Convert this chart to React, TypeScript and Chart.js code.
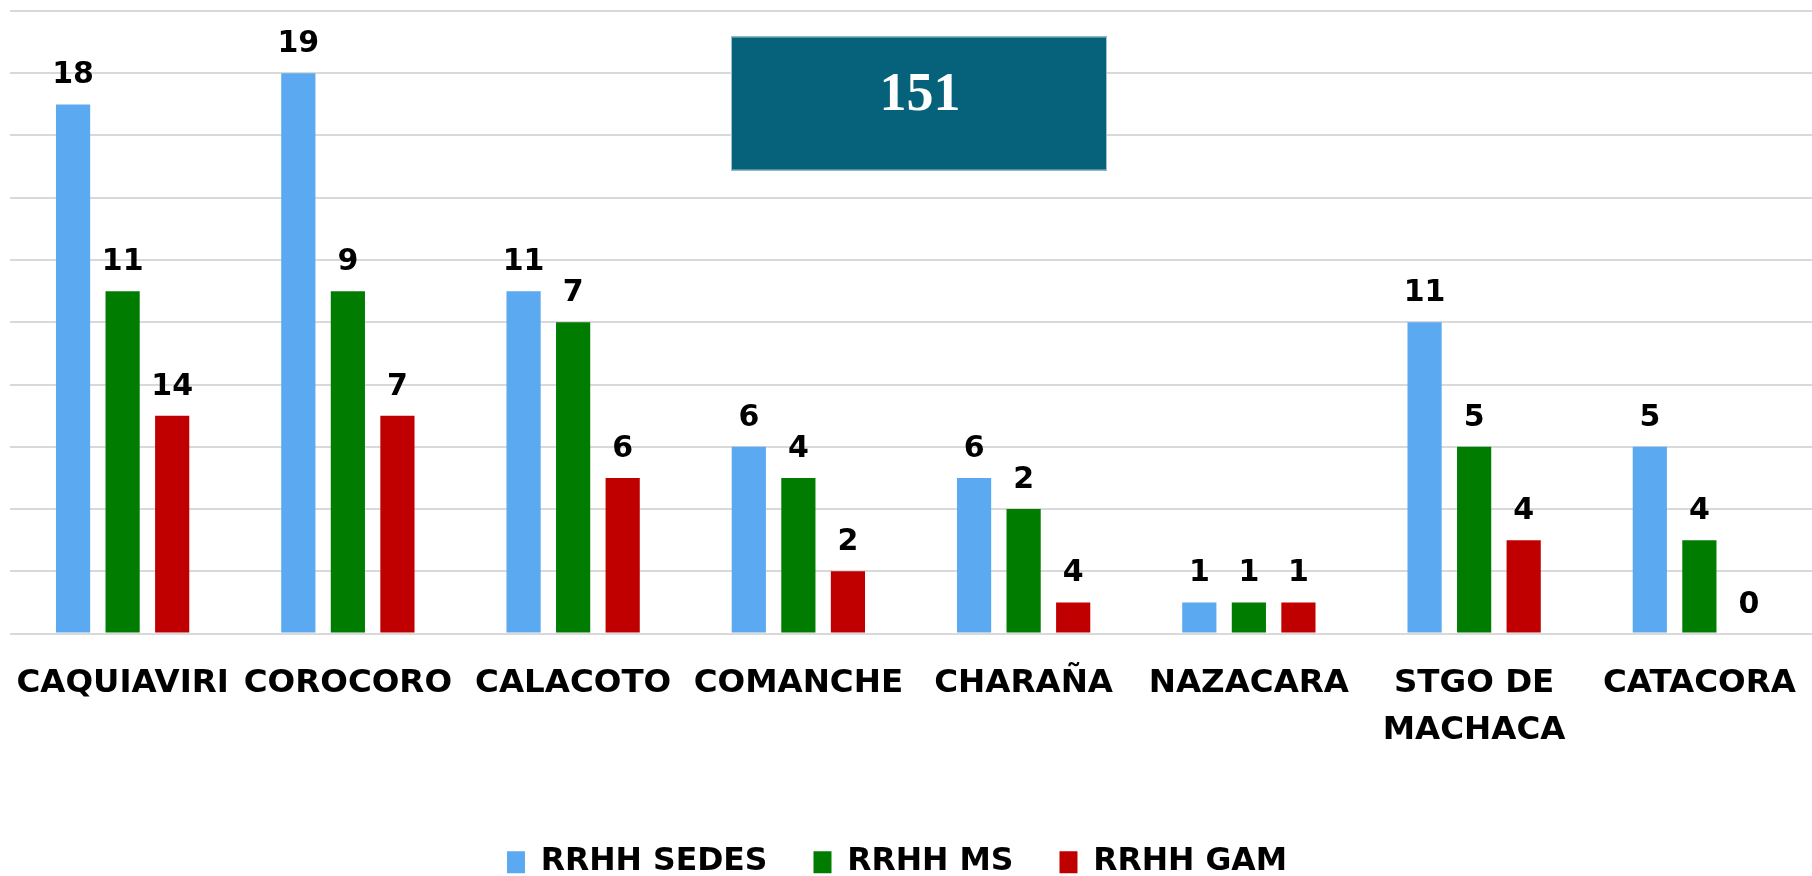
import React, { useEffect, useRef } from "react";
import { Chart, registerables } from "chart.js";

Chart.register(...registerables);

// ---- data ----
const categories: (string | string[])[] = [
  "CAQUIAVIRI",
  "COROCORO",
  "CALACOTO",
  "COMANCHE",
  "CHARAÑA",
  "NAZACARA",
  ["STGO DE", "MACHACA"],
  "CATACORA",
];
const seriesNames = ["RRHH SEDES", "RRHH MS", "RRHH GAM"];
const seriesColors = ["#5BA9F1", "#007D00", "#C00000"];

// bar heights as drawn (gridline units)
const sedesHeights = [8.5, 9, 5.5, 3, 2.5, 0.5, 5, 3];
const msHeights = [5.5, 5.5, 5, 2.5, 2, 0.5, 3, 1.5];
const gamHeights = [3.5, 3.5, 2.5, 1, 0.5, 0.5, 1.5, 0];

// value labels printed above bars
const sedesLabels = ["18", "19", "11", "6", "6", "1", "11", "5"];
const msLabels = ["11", "9", "7", "4", "2", "1", "5", "4"];
const gamLabels = ["14", "7", "6", "2", "4", "1", "4", "0"];

const totalLabel = "151";
const yMax = 10;
const yStep = 1;

const FONT = '"DejaVu Sans", sans-serif';

const valueLabelSets = [sedesLabels, msLabels, gamLabels];

const valueLabelPlugin = {
  id: "valueLabels",
  afterDatasetsDraw(chart: any) {
    const ctx = chart.ctx;
    ctx.save();
    ctx.font = `bold 30px ${FONT}`;
    ctx.fillStyle = "#000";
    ctx.textAlign = "center";
    ctx.textBaseline = "alphabetic";
    chart.data.datasets.forEach((_ds: any, i: number) => {
      const meta = chart.getDatasetMeta(i);
      meta.data.forEach((bar: any, j: number) => {
        ctx.fillText(valueLabelSets[i][j], bar.x, bar.y - 21);
      });
    });
    ctx.restore();
  },
};

const totalBoxPlugin = {
  id: "totalBox",
  afterDraw(chart: any) {
    const ctx = chart.ctx;
    const { left, top } = chart.chartArea;
    const bx = left + 721;
    const by = top + 25.5;
    const bw = 376;
    const bh = 134;
    ctx.save();
    ctx.fillStyle = "#05627A";
    ctx.fillRect(bx, by, bw, bh);
    ctx.strokeStyle = "#9CC3CF";
    ctx.lineWidth = 1;
    ctx.strokeRect(bx + 0.5, by + 0.5, bw - 1, bh - 1);
    ctx.fillStyle = "#ffffff";
    ctx.font = 'bold 54px "Liberation Serif", "DejaVu Serif", serif';
    ctx.textAlign = "center";
    ctx.textBaseline = "alphabetic";
    ctx.fillText(totalLabel, bx + bw / 2 + 1, by + 73);
    ctx.restore();
  },
};

// nudges the legend group slightly left, as in the reference
const legendShiftPlugin = {
  id: "legendShift",
  afterLayout(chart: any) {
    if (chart.legend) {
      chart.legend.left -= 14;
      chart.legend.right -= 14;
    }
  },
};

export default function App() {
  const canvasRef = useRef<HTMLCanvasElement | null>(null);

  useEffect(() => {
    if (!canvasRef.current) return;
    const chart = new Chart(canvasRef.current, {
      type: "bar",
      data: {
        labels: categories as any,
        datasets: [sedesHeights, msHeights, gamHeights].map((d, i) => ({
          label: seriesNames[i],
          data: d,
          backgroundColor: seriesColors[i],
          borderWidth: 0,
          categoryPercentage: 0.66,
          barPercentage: 0.69,
        })),
      },
      options: {
        animation: false,
        responsive: true,
        maintainAspectRatio: false,
        layout: { padding: { left: 10, right: 0, top: 11, bottom: 0 } },
        plugins: {
          tooltip: { enabled: false },
          legend: {
            position: "bottom",
            labels: {
              font: { family: FONT, weight: "bold", size: 31.5 },
              color: "#000",
              boxWidth: 18,
              boxHeight: 22,
              padding: 46,
            },
          },
        },
        scales: {
          x: {
            grid: { display: false, drawTicks: false },
            border: { display: false },
            ticks: {
              color: "#000",
              font: { family: FONT, weight: "bold", size: 32.5, lineHeight: 1.45 },
              padding: 26,
              maxRotation: 0,
              autoSkip: false,
            },
            afterFit: (scale: any) => {
              scale.height = 167;
              scale.paddingLeft = 0;
              scale.paddingRight = 0;
            },
          },
          y: {
            min: 0,
            max: yMax,
            ticks: { display: false, stepSize: yStep },
            grid: { color: "#D9D9D9", lineWidth: 2, drawTicks: false },
            border: { display: false },
            afterFit: (scale: any) => {
              scale.width = 0;
            },
          },
        },
      },
      plugins: [valueLabelPlugin, totalBoxPlugin, legendShiftPlugin],
    });
    return () => chart.destroy();
  }, []);

  return (
    <div
      style={{
        position: "fixed",
        left: 0,
        top: 0,
        width: 1812,
        height: 876,
        overflow: "hidden",
        background: "#fff",
      }}
    >
      <div style={{ position: "relative", width: 1812, height: 888 }}>
        <canvas ref={canvasRef} />
      </div>
    </div>
  );
}
